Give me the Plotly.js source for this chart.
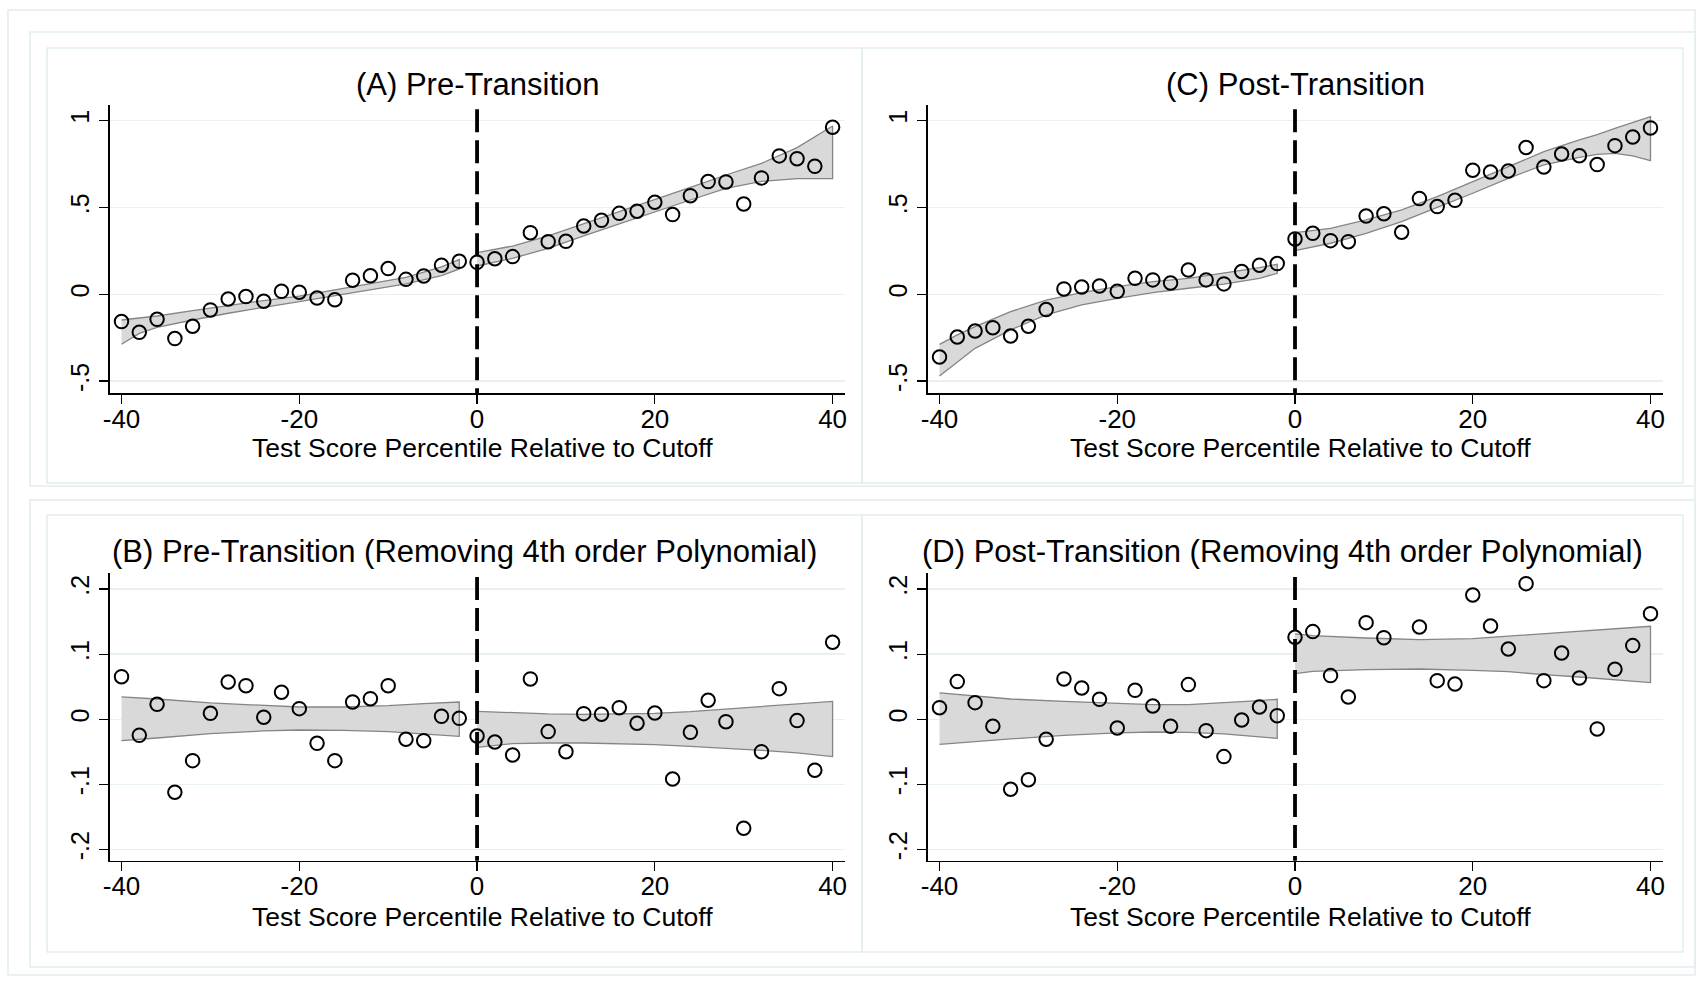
<!DOCTYPE html>
<html><head><meta charset="utf-8">
<script src="https://cdn.plot.ly/plotly-3.0.1.min.js"></script>
<style>html,body{margin:0;padding:0;background:#fff}#chart{width:1702px;height:983px}</style>
</head><body><div id="chart"></div>
<script>
// ---------- data ----------
const cutoff = 0;
const xLeft  = [-40,-38,-36,-34,-32,-30,-28,-26,-24,-22,-20,-18,-16,-14,-12,-10,-8,-6,-4,-2];
const xRight = [0,2,4,6,8,10,12,14,16,18,20,22,24,26,28,30,32,34,36,38,40];

// (A) Pre-Transition
const aLeft  = [-0.157,-0.219,-0.144,-0.255,-0.184,-0.090,-0.027,-0.013,-0.040,0.017,0.012,-0.021,-0.031,0.081,0.107,0.148,0.086,0.106,0.167,0.190];
const aRight = [0.184,0.205,0.217,0.355,0.303,0.305,0.393,0.426,0.466,0.478,0.530,0.459,0.568,0.649,0.647,0.520,0.670,0.797,0.781,0.737,0.962];
const aBandLX = [-40,-38,-36,-32,-28,-24,-20,-16,-12,-8,-4,-2];
const aBandLU = [-0.148,-0.138,-0.125,-0.094,-0.063,-0.036,-0.010,0.025,0.060,0.098,0.158,0.200];
const aBandLL = [-0.288,-0.225,-0.190,-0.148,-0.109,-0.075,-0.042,-0.010,0.025,0.060,0.108,0.146];
const aBandRX = [0,4,8,12,16,20,24,28,32,36,38,40];
const aBandRU = [0.240,0.278,0.336,0.405,0.476,0.547,0.616,0.687,0.754,0.845,0.905,0.969];
const aBandRL = [0.163,0.207,0.265,0.336,0.405,0.472,0.543,0.610,0.650,0.666,0.668,0.666];

// (C) Post-Transition
const cLeft  = [-0.361,-0.246,-0.211,-0.192,-0.240,-0.184,-0.088,0.031,0.042,0.048,0.017,0.092,0.083,0.065,0.140,0.083,0.060,0.131,0.167,0.177];
const cRight = [0.319,0.351,0.309,0.303,0.451,0.464,0.357,0.551,0.505,0.541,0.714,0.704,0.710,0.845,0.733,0.808,0.798,0.747,0.856,0.906,0.958];
const cBandLX = [-40,-38,-36,-32,-28,-24,-20,-16,-12,-8,-4,-2];
const cBandLU = [-0.288,-0.234,-0.186,-0.100,-0.033,0.010,0.044,0.073,0.092,0.121,0.154,0.173];
const cBandLL = [-0.470,-0.388,-0.311,-0.205,-0.119,-0.061,-0.023,0.010,0.035,0.058,0.092,0.121];
const cBandRX = [0,4,8,12,16,20,24,28,32,34,36,38,40];
const cBandRU = [0.355,0.380,0.428,0.486,0.562,0.649,0.735,0.821,0.889,0.920,0.956,0.990,1.023];
const cBandRL = [0.251,0.294,0.351,0.418,0.501,0.582,0.668,0.745,0.789,0.806,0.812,0.797,0.770];

// (B) Pre-Transition residuals
const bLeft  = [0.0655,-0.0246,0.0230,-0.1120,-0.0635,0.0092,0.0573,0.0517,0.0031,0.0415,0.0164,-0.0369,-0.0635,0.0266,0.0317,0.0517,-0.0307,-0.0328,0.0046,0.0015];
const bRight = [-0.0256,-0.0348,-0.0548,0.0620,-0.0189,-0.0497,0.0087,0.0077,0.0179,-0.0061,0.0097,-0.0917,-0.0200,0.0292,-0.0036,-0.1674,-0.0497,0.0471,-0.0020,-0.0783,0.1183];
const bBandLX = [-40,-36,-30,-24,-20,-15,-10,-6,-2];
const bBandLU = [0.0343,0.0312,0.0251,0.0210,0.0189,0.0189,0.0210,0.0241,0.0266];
const bBandLL = [-0.0328,-0.0287,-0.0220,-0.0179,-0.0164,-0.0169,-0.0189,-0.0220,-0.0261];
const bBandRX = [0,4,8,12,16,20,24,28,32,36,40];
const bBandRU = [0.0123,0.0097,0.0082,0.0077,0.0082,0.0092,0.0118,0.0159,0.0200,0.0241,0.0276];
const bBandRL = [-0.0430,-0.0374,-0.0364,-0.0364,-0.0374,-0.0389,-0.0415,-0.0440,-0.0476,-0.0517,-0.0573];

// (D) Post-Transition residuals
const dLeft  = [0.0179,0.0579,0.0256,-0.0108,-0.1075,-0.0927,-0.0307,0.0620,0.0481,0.0307,-0.0133,0.0445,0.0205,-0.0108,0.0533,-0.0174,-0.0573,-0.0010,0.0189,0.0056];
const dRight = [0.1260,0.1347,0.0671,0.0343,0.1485,0.1254,null,0.1418,0.0594,0.0543,0.1910,0.1434,0.1080,0.2084,0.0594,0.1019,0.0635,-0.0148,0.0768,0.1132,0.1623];
const dBandLX = [-40,-36,-32,-26,-20,-16,-12,-8,-4,-2];
const dBandLU = [0.0405,0.0353,0.0312,0.0276,0.0241,0.0225,0.0225,0.0251,0.0287,0.0307];
const dBandLL = [-0.0384,-0.0343,-0.0302,-0.0246,-0.0210,-0.0195,-0.0200,-0.0225,-0.0271,-0.0292];
const dBandRX = [0,2,8,14,20,24,28,32,36,40];
const dBandRU = [0.1311,0.1285,0.1249,0.1224,0.1239,0.1275,0.1311,0.1347,0.1388,0.1429];
const dBandRL = [0.0701,0.0737,0.0763,0.0773,0.0753,0.0732,0.0686,0.0650,0.0609,0.0563];

const titles = ['(A) Pre-Transition','(C) Post-Transition',
  '(B) Pre-Transition (Removing 4th order Polynomial)','(D) Post-Transition (Removing 4th order Polynomial)'];
const xTitle = 'Test Score Percentile Relative to Cutoff';
const xTickVals = [-40,-20,0,20,40];
const xTickText = ['-40','-20','0','20','40'];
const yTopVals = [-0.5,0,0.5,1];
const yTopText = ['-.5','0','.5','1'];
const yBotVals = [-0.2,-0.1,0,0.1,0.2];
const yBotText = ['-.2','-.1','0','.1','.2'];

// ---------- drawing ----------
const FONT = 'Liberation Sans, Arial, Helvetica, sans-serif';
const W = 1702, H = 983;
const px = v => v / W, py = v => 1 - v / H;

function band(xs, up, lo, ax) {
  return {type:'scatter', mode:'lines', xaxis:'x'+ax, yaxis:'y'+ax,
    x: xs.concat(xs.slice().reverse()), y: up.concat(lo.slice().reverse()),
    fill:'toself', fillcolor:'#d9d9d9', line:{color:'#858585', width:1.3},
    hoverinfo:'skip'};
}
function pts(xs, ys, ax) {
  return {type:'scatter', mode:'markers', xaxis:'x'+ax, yaxis:'y'+ax, x:xs, y:ys,
    marker:{symbol:'circle-open', size:13.5, color:'#000', line:{width:2, color:'#000'}}};
}
const panels = [
  {ax:'',  L:aLeft, R:aRight, bl:[aBandLX,aBandLU,aBandLL], br:[aBandRX,aBandRU,aBandRL]},
  {ax:'2', L:cLeft, R:cRight, bl:[cBandLX,cBandLU,cBandLL], br:[cBandRX,cBandRU,cBandRL]},
  {ax:'3', L:bLeft, R:bRight, bl:[bBandLX,bBandLU,bBandLL], br:[bBandRX,bBandRU,bBandRL]},
  {ax:'4', L:dLeft, R:dRight, bl:[dBandLX,dBandLU,dBandLL], br:[dBandRX,dBandRU,dBandRL]}
];
const traces = [];
panels.forEach(p => {
  traces.push(band(p.bl[0],p.bl[1],p.bl[2],p.ax));
  traces.push(band(p.br[0],p.br[1],p.br[2],p.ax));
});
panels.forEach(p => {
  traces.push(pts(xLeft,p.L,p.ax));
  traces.push(pts(xRight,p.R,p.ax));
});

const domLeft = [px(109.7), px(844.6)];
const domRight = [px(927.7), px(1662.5)];
const domTop = [py(393.3), py(105)];
const domBot = [py(860.7), py(572.7)];

function xa(dom, anchor) {
  return {domain:dom, anchor:anchor, range:[-41.33,41.35], showgrid:false, zeroline:false,
    showline:true, linecolor:'#000', linewidth:1.3, ticks:'outside', ticklen:9, tickwidth:1.3, tickcolor:'#000',
    tickvals:xTickVals, ticktext:xTickText, ticklabelstandoff:-7,
    tickfont:{family:FONT, size:26, color:'#000'}};
}
function ya(dom, anchor, rng, vals, text) {
  return {domain:dom, anchor:anchor, range:rng, showgrid:true, gridcolor:'#e8f0f2', gridwidth:1.5,
    zeroline:false, showline:true, linecolor:'#000', linewidth:1.3, ticks:'outside', ticklen:9, tickwidth:1.3,
    tickcolor:'#000', tickvals:vals, ticktext:text, tickangle:-90,
    tickfont:{family:FONT, size:25, color:'#000'}};
}
const topR = [-0.570, 1.090], botR = [-0.2172, 0.2252];

const shapes = [];
['', '2', '3', '4'].forEach(a => {
  shapes.push({type:'line', xref:'x'+a, yref:'y'+a+' domain', x0:cutoff, x1:cutoff, y0:0.985, y1:0,
    line:{color:'#000', width:3.8, dash:'23px,8px'}, layer:'above'});
});
// faint Stata graph-region frames
const frameColor = '#e4edef';
const frames = [[8,10,1695,975],[30,32,1695,486],[30,500,1695,967],
  [47,48,862,483],[862,48,1683,483],[47,515,862,952],[862,515,1683,952]];
frames.forEach(f => shapes.push({type:'rect', xref:'paper', yref:'paper',
  x0:px(f[0]), x1:px(f[2]), y0:py(f[3]), y1:py(f[1]), line:{color:frameColor, width:1.5}, layer:'below'}));

const cL = (domLeft[0]+domLeft[1])/2, cR = (domRight[0]+domRight[1])/2;
const titleAnn = [
  {text:titles[0], x:cL, y:py(85)},
  {text:titles[1], x:cR, y:py(85)},
  {text:titles[2], x:cL - px(12.5), y:py(551)},
  {text:titles[3], x:cR - px(12.5), y:py(551)}
].map(a => Object.assign(a, {font:{family:FONT, size:31, color:'#000'}}));
const axisAnn = [
  {text:xTitle, x:cL + px(5), y:py(448)},
  {text:xTitle, x:cR + px(5), y:py(448)},
  {text:xTitle, x:cL + px(5), y:py(917)},
  {text:xTitle, x:cR + px(5), y:py(917)}
].map(a => Object.assign(a, {font:{family:FONT, size:26.5, color:'#000'}}));
const annotations = titleAnn.concat(axisAnn).map(a => Object.assign(a,
  {xref:'paper', yref:'paper', showarrow:false, xanchor:'center', yanchor:'middle'}));

const layout = {
  width:W, height:H, margin:{l:0,r:0,t:0,b:0}, paper_bgcolor:'#fff', plot_bgcolor:'#fff', showlegend:false,
  xaxis: xa(domLeft,'y'), yaxis: ya(domTop,'x',topR,yTopVals,yTopText),
  xaxis2: xa(domRight,'y2'), yaxis2: ya(domTop,'x2',topR,yTopVals,yTopText),
  xaxis3: xa(domLeft,'y3'), yaxis3: ya(domBot,'x3',botR,yBotVals,yBotText),
  xaxis4: xa(domRight,'y4'), yaxis4: ya(domBot,'x4',botR,yBotVals,yBotText),
  shapes: shapes, annotations: annotations
};
Plotly.newPlot('chart', traces, layout, {displayModeBar:false, staticPlot:true});
</script></body></html>
